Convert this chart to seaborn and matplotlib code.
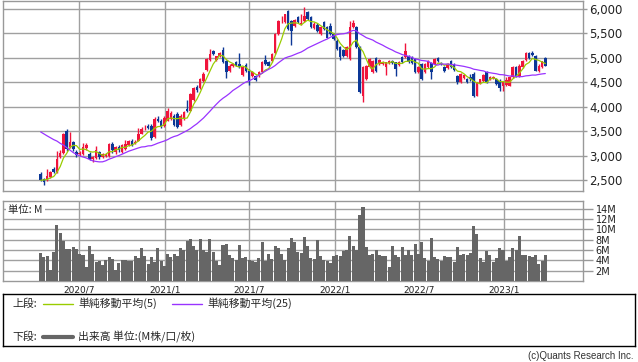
import numpy as np
import pandas as pd
import matplotlib
matplotlib.use("Agg")
import matplotlib.pyplot as plt
import seaborn as sns

# weekly candles (yen), first week 2020-04-09
first_week = "2020-04-09"

open_ = [2627, 2525, 2505, 2560, 2730, 2661, 2967, 3049, 3511, 3171,
         3273, 3069, 3030, 3035, 3150, 3035, 2920, 2940, 3070, 2967,
         2990, 2997, 3239, 3069, 3171, 3069, 3137, 3205, 3307, 3250,
         3307, 3450, 3555, 3613, 3613, 3375, 3749, 3715, 3610, 3715,
         3749, 3817, 3851, 3633, 3749, 3950, 3919, 4129, 4408, 4381,
         4530, 4748, 4953, 5133, 4953, 5040, 5157, 4939, 4721, 4830,
         4905, 4871, 4653, 4857, 4735, 4633, 4633, 4633, 4701, 4952,
         4918, 4939, 5089, 5483, 5740, 5721, 5959, 5755, 5653, 5823,
         5680, 5741, 5939, 5823, 5600, 5673, 5483, 5720, 5630, 5650,
         5483, 5347, 5211, 5157, 5041, 4973, 5619, 5619, 5211, 4225,
         4565, 4803, 4701, 4993, 4860, 4870, 4803, 4880, 4940, 4905,
         4850, 5021, 5021, 5041, 5010, 4973, 4701, 4871, 4701, 4803,
         4890, 4871, 5000, 4900, 4800, 4780, 4940, 4850, 4633, 4497,
         4580, 4565, 4600, 4667, 4225, 4490, 4531, 4701, 4560, 4580,
         4565, 4531, 4429, 4450, 4429, 4599, 4803, 4633, 4803, 4953,
         5089, 5100, 5041, 4735, 4803, 4993]
high = [2660, 2540, 2730, 2680, 2760, 3100, 3110, 3460, 3545, 3480,
        3300, 3110, 3090, 3250, 3250, 3080, 3000, 3190, 3100, 3060,
        3050, 3260, 3270, 3200, 3210, 3230, 3320, 3320, 3340, 3320,
        3560, 3580, 3620, 3640, 3640, 3780, 3800, 3740, 3800, 3970,
        3900, 3850, 3880, 3840, 3900, 4130, 4280, 4400, 4450, 4580,
        4700, 4990, 5177, 5150, 5040, 5120, 5210, 4960, 4860, 4880,
        4930, 5090, 4820, 4880, 4760, 4720, 4650, 4720, 4940, 5050,
        4940, 5100, 5500, 5760, 5850, 5900, 5970, 5770, 5790, 5840,
        5900, 6040, 5960, 5840, 5720, 5700, 5650, 5740, 5650, 5700,
        5500, 5370, 5230, 5180, 5230, 5741, 5770, 5640, 5230, 4820,
        4850, 4990, 4960, 5010, 4980, 4940, 4920, 4960, 4960, 4920,
        4930, 5040, 5293, 5060, 5030, 4990, 4820, 4890, 4890, 4960,
        4920, 4990, 5020, 4920, 4820, 4880, 4950, 4880, 4650, 4680,
        4660, 4590, 4670, 4700, 4500, 4570, 4670, 4720, 4620, 4630,
        4590, 4560, 4520, 4600, 4620, 4820, 4830, 4860, 4960, 5110,
        5110, 5140, 5060, 4860, 4940, 5020]
low = [2480, 2400, 2490, 2540, 2640, 2650, 2940, 3030, 3100, 3150,
       3100, 2960, 2990, 3010, 3120, 2900, 2860, 2920, 2930, 2950,
       2960, 2980, 3060, 3040, 3080, 3050, 3120, 3190, 3200, 3230,
       3290, 3430, 3520, 3540, 3320, 3360, 3680, 3560, 3590, 3700,
       3730, 3600, 3560, 3610, 3730, 3880, 3900, 4110, 4300, 4360,
       4510, 4730, 4930, 5050, 4930, 5020, 4880, 4590, 4700, 4810,
       4820, 4790, 4630, 4700, 4450, 4600, 4520, 4610, 4680, 4850,
       4820, 4920, 5070, 5460, 5700, 5700, 5560, 5260, 5630, 5700,
       5660, 5720, 5760, 5600, 5580, 5530, 5470, 5560, 5400, 5460,
       5360, 5150, 4953, 5020, 5020, 4950, 5600, 5190, 4280, 4089,
       4540, 4780, 4680, 4700, 4840, 4850, 4650, 4860, 4860, 4630,
       4830, 4880, 5000, 4880, 4860, 4680, 4680, 4540, 4680, 4780,
       4560, 4850, 4920, 4850, 4700, 4760, 4780, 4730, 4470, 4480,
       4560, 4480, 4530, 4200, 4210, 4470, 4510, 4480, 4540, 4560,
       4440, 4320, 4310, 4420, 4410, 4580, 4610, 4610, 4790, 4930,
       4970, 5030, 4720, 4710, 4780, 4820]
close = [2505, 2457, 2573, 2661, 2661, 2933, 3049, 3443, 3137, 3273,
         3137, 3021, 3060, 3170, 3225, 2935, 2960, 3120, 2967, 3035,
         3030, 3239, 3117, 3171, 3103, 3205, 3239, 3294, 3225, 3280,
         3443, 3545, 3565, 3565, 3361, 3749, 3715, 3593, 3760, 3919,
         3860, 3633, 3593, 3817, 3885, 3900, 4259, 4381, 4340, 4565,
         4660, 4966, 5073, 5079, 5023, 5100, 4905, 4700, 4837, 4860,
         4837, 4803, 4803, 4721, 4531, 4701, 4544, 4701, 4918, 4871,
         4837, 5075, 5483, 5741, 5755, 5891, 5585, 5551, 5769, 5721,
         5700, 5850, 5789, 5619, 5687, 5551, 5619, 5585, 5401, 5483,
         5381, 5177, 5007, 5041, 5211, 5619, 5701, 5211, 4293, 4803,
         4837, 4973, 4939, 4735, 4950, 4920, 4905, 4940, 4880, 4769,
         4910, 4905, 5143, 4905, 4880, 4701, 4803, 4565, 4871, 4939,
         4700, 4973, 4940, 4870, 4720, 4850, 4800, 4750, 4497, 4667,
         4640, 4497, 4560, 4225, 4497, 4560, 4653, 4497, 4600, 4610,
         4463, 4381, 4497, 4540, 4599, 4803, 4633, 4837, 4939, 5089,
         4993, 5060, 4735, 4837, 4925, 4837]
# weekly volume, millions of shares
volume = [5.4, 4.7, 4.9, 2.1, 5.7, 10.9, 9.3, 7.8, 6.2, 6.2,
          6.5, 6.2, 5.2, 5.0, 2.8, 6.8, 5.2, 3.6, 3.8, 3.1,
          4.1, 4.6, 4.2, 2.1, 3.4, 4.1, 4.1, 3.9, 3.9, 4.9,
          4.5, 6.3, 4.9, 3.3, 4.6, 3.7, 6.3, 3.9, 2.9, 5.2,
          4.6, 5.2, 4.9, 6.3, 6.0, 7.8, 8.1, 6.7, 6.0, 8.1,
          6.1, 5.7, 8.1, 5.6, 3.9, 3.1, 7.0, 7.2, 5.0, 4.4,
          4.1, 7.0, 4.4, 4.6, 4.1, 3.9, 3.6, 4.4, 7.6, 3.9,
          5.2, 4.2, 6.7, 6.3, 5.2, 4.1, 6.3, 8.3, 7.6, 5.6,
          5.4, 8.6, 6.8, 4.4, 4.3, 8.0, 4.9, 4.1, 3.8, 3.4,
          4.9, 5.0, 4.9, 5.9, 6.1, 8.7, 6.8, 6.1, 12.8, 14.4,
          6.5, 5.0, 5.2, 6.1, 5.0, 4.9, 4.9, 2.8, 6.8, 5.0,
          4.7, 6.5, 5.0, 6.1, 5.0, 7.2, 5.2, 7.6, 4.4, 3.9,
          8.3, 4.6, 4.2, 3.9, 4.9, 4.6, 4.7, 3.6, 6.5, 5.0,
          5.2, 5.0, 5.5, 10.7, 9.1, 4.4, 3.6, 5.8, 5.0, 3.6,
          4.4, 6.3, 6.0, 3.8, 4.6, 6.3, 6.0, 8.7, 5.0, 5.0,
          4.9, 4.7, 5.0, 3.3, 3.9, 5.0]
# closes of the weeks before the first candle (only feed the moving averages)
pre_close = [3500, 3560, 3600, 3620, 3680, 4200, 4330, 4450, 4500, 4420,
             3980, 3820, 3700, 3740, 3700, 3660, 3420, 3200, 3000, 2500,
             2420, 2520, 2500, 2530]

tick_dates = ["2020-07-01", "2021-01-01", "2021-07-01", "2022-01-01", "2022-07-01", "2023-01-01"]
tick_labels = ["2020/7", "2021/1", "2021/7", "2022/1", "2022/7", "2023/1"]
price_ticks = [2500, 3000, 3500, 4000, 4500, 5000, 5500, 6000]
vol_ticks = [2, 4, 6, 8, 10, 12, 14]

df = pd.DataFrame({"open": open_, "high": high, "low": low, "close": close, "volume": volume})
df["date"] = pd.date_range(first_week, periods=len(df), freq="7D")
all_close = pd.Series(pre_close + close)
df["ma5"] = all_close.rolling(5).mean().iloc[-len(df):].values
df["ma25"] = all_close.rolling(25).mean().iloc[-len(df):].values

sns.set_style("white")
plt.rcParams["font.family"] = ["DejaVu Sans", "Noto Sans CJK JP"]

RED, BLUE = "#f0143c", "#0c3796"
GRID, FRAME = "#a0a0a0", "#999999"
W, H = 638, 362

def box(l, t, r, b):
    return [l / W, 1 - b / H, (r - l) / W, (b - t) / H]

fig = plt.figure(figsize=(W / 100, H / 100), dpi=100)
ax = fig.add_axes(box(3, 1, 583, 190.5))
axv = fig.add_axes(box(3, 201, 583, 281), sharex=ax)
axl = fig.add_axes(box(3, 294, 635, 346))

# candles
up = df["close"] >= df["open"]
colors = np.where(up, RED, BLUE)
ax.vlines(df["date"], df["low"], df["high"], colors=colors, lw=1, zorder=3)
body = np.maximum((df["close"] - df["open"]).abs(), 15)
ax.bar(df["date"], body, bottom=df[["open", "close"]].min(axis=1),
       width=5.5, color=colors, lw=0, zorder=4)

sns.lineplot(data=df, x="date", y="ma5", ax=ax, color="#99cc00", lw=0.9, zorder=5, legend=False)
sns.lineplot(data=df, x="date", y="ma25", ax=ax, color="#9933ff", lw=0.9, zorder=5, legend=False)

# volume
axv.bar(df["date"], df["volume"], width=6.5, color="#666666", lw=0, zorder=3)

ax.set_xlim(pd.Timestamp("2020-01-19"), pd.Timestamp("2023-06-19"))
ax.set_ylim(2286, 6156)
axv.set_ylim(0, 15.5)

for a in (ax, axv):
    a.set_xticks(pd.to_datetime(tick_dates))
    a.grid(True, color=GRID, lw=1)
    a.set_axisbelow(True)
    a.yaxis.tick_right()
    a.set_xlabel("")
    a.set_ylabel("")
    for s in a.spines.values():
        s.set_color(FRAME)
        s.set_linewidth(1)

ax.set_yticks(price_ticks)
ax.set_yticklabels([f"{v:,}" for v in price_ticks])
ax.tick_params(axis="y", length=3, width=1, color=FRAME, pad=1.5, labelsize=8.5, labelcolor="#222222")
ax.tick_params(axis="x", length=0, labelbottom=False)

axv.set_yticks(vol_ticks)
axv.set_yticklabels([f"{v}M" for v in vol_ticks])
axv.tick_params(axis="y", length=7, width=1, color=FRAME, pad=2, labelsize=7, labelcolor="#222222")
axv.set_xticklabels(tick_labels)
axv.tick_params(axis="x", length=0, pad=3.5, labelsize=6.5, labelcolor="#222222")

axv.text(0.009, 0.885, "単位: M", transform=axv.transAxes, ha="left", va="center",
         fontsize=7.5, family=["Noto Sans CJK JP", "DejaVu Sans"], zorder=6,
         bbox=dict(facecolor="white", edgecolor="none", pad=1.8))

# legend panel
axl.set_xlim(0, 632)
axl.set_ylim(52, 0)
axl.set_xticks([])
axl.set_yticks([])
for s in axl.spines.values():
    s.set_color("black")
    s.set_linewidth(1)
cjk = ["Noto Sans CJK JP", "DejaVu Sans"]
axl.text(9, 9.5, "上段:", fontsize=7.8, family=cjk, va="center")
axl.plot([40, 70], [9.5, 9.5], color="#99cc00", lw=1)
axl.text(75, 9.5, "単純移動平均(5)", fontsize=7.8, family=cjk, va="center")
axl.plot([169, 199], [9.5, 9.5], color="#9933ff", lw=1)
axl.text(204, 9.5, "単純移動平均(25)", fontsize=7.8, family=cjk, va="center")
axl.text(9, 42.5, "下段:", fontsize=7.8, family=cjk, va="center")
axl.plot([40, 70], [42.5, 42.5], color="#666666", lw=3)
axl.text(75, 42.5, "出来高 単位:(M株/口/枚)", fontsize=7.8, family=cjk, va="center")

fig.text(633 / W, 1 - 356 / H, "(c)Quants Research Inc.", ha="right", va="center",
         fontsize=7, family="Liberation Sans", color="#333333")

fig.savefig("out.png", dpi=100)
